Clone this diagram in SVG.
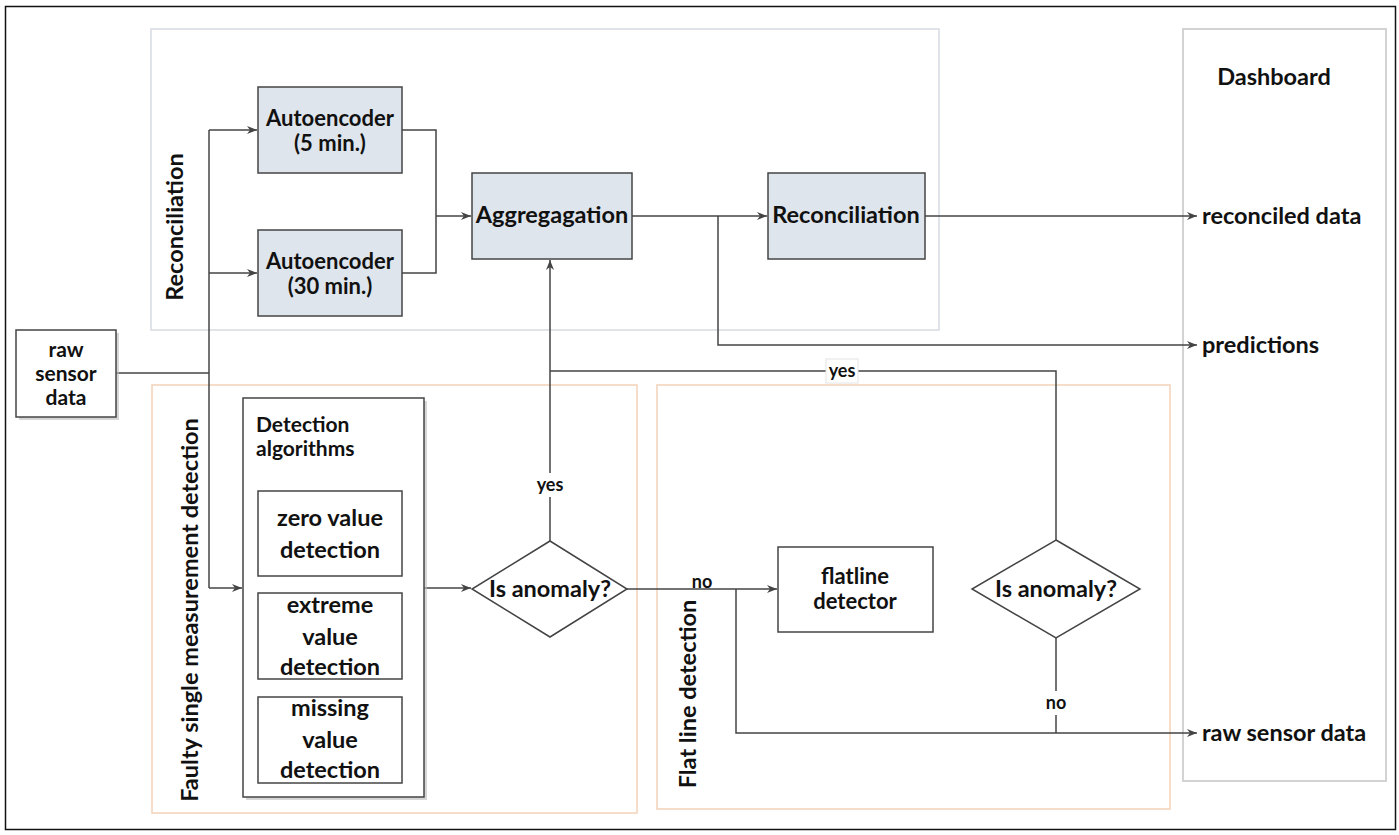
<svg xmlns="http://www.w3.org/2000/svg" width="1399" height="835" viewBox="0 0 1399 835">
<style>
text{font-family:Lato,"Open Sans","Liberation Sans",sans-serif;font-weight:700;fill:#111}
.t{font-size:23.5px;text-anchor:middle}
.m{font-size:22px;text-anchor:middle}
.n{font-size:21px;text-anchor:middle}
.l{font-size:23.5px}
.s{font-size:18px;text-anchor:middle}
.node{fill:#dfe5ec;stroke:#444;stroke-width:1.5}
.box{fill:#fff;stroke:#444;stroke-width:1.5}
.shadow{fill:#bbb;opacity:0.6}
.grp{fill:#fff;stroke:#d6dbe1;stroke-width:1.5}
.org{fill:#fff;stroke:#f2d2b8;stroke-width:1.5}
.dash{fill:#fff;stroke:#d3d3d3;stroke-width:2}
.c{fill:none;stroke:#444;stroke-width:1.5}
.ca{fill:none;stroke:#444;stroke-width:1.5;marker-end:url(#arr)}
</style>
<defs>
<marker id="arr" markerUnits="userSpaceOnUse" markerWidth="11" markerHeight="8" refX="10" refY="4" orient="auto">
<path d="M0,0 L10,4 L0,8 L3,4 z" fill="#444"/>
</marker>
</defs>
<rect x="0" y="0" width="1399" height="835" fill="#fff"/>
<rect x="5.5" y="6.5" width="1390" height="823" fill="none" stroke="#111" stroke-width="1.5"/>

<g id="group-reconciliation">
<rect class="grp" x="151" y="29" width="788" height="301"/>
<text class="t" transform="translate(183,227) rotate(-90)">Reconciliation</text>
</g>
<g id="group-faulty">
<rect class="org" x="152" y="385" width="485" height="428"/>
<text class="t" transform="translate(198,610) rotate(-90)">Faulty single measurement detection</text>
</g>
<g id="group-flatline">
<rect class="org" x="657" y="385" width="513" height="424"/>
<text class="t" transform="translate(696,694) rotate(-90)">Flat line detection</text>
</g>
<g id="group-dashboard">
<rect class="dash" x="1183" y="29" width="203" height="752"/>
<text class="t" x="1274" y="85">Dashboard</text>
</g>

<g id="connectors">
<path class="c" d="M116,373 H209"/>
<path class="c" d="M209,130 V588"/>
<path class="ca" d="M209,130 H257"/>
<path class="ca" d="M209,273 H257"/>
<path class="ca" d="M209,588 H242"/>
<path class="c" d="M402,130 H436 V273 H402"/>
<path class="ca" d="M436,216 H471"/>
<path class="ca" d="M632,216 H767"/>
<path class="ca" d="M718,216 V345 H1197"/>
<path class="ca" d="M925,216 H1197"/>
<path class="ca" d="M424,588 H471"/>
<path class="ca" d="M550,541 V260"/>
<path class="c" d="M1056,541 V371 H550"/>
<path class="ca" d="M627,589 H777"/>
<path class="ca" d="M736,589 V733 H1197"/>
<path class="c" d="M1056,638 V733"/>
<rect x="534" y="473" width="32" height="24" fill="#fff"/>
<text class="s" x="550" y="491">yes</text>
<rect x="826" y="359" width="32" height="24" fill="#fff" stroke="#e4e4e4" stroke-width="1"/>
<text class="s" x="842" y="377">yes</text>
<text class="s" x="702" y="588">no</text>
<rect x="1042" y="691" width="28" height="24" fill="#fff"/>
<text class="s" x="1056" y="709">no</text>
</g>

<g id="raw-sensor-data">
<rect class="shadow" x="19" y="333" width="100" height="87"/>
<rect class="box" x="16" y="330" width="100" height="87"/>
<text class="n"><tspan x="66" y="357">raw</tspan><tspan x="66" y="381">sensor</tspan><tspan x="66" y="405">data</tspan></text>
</g>
<g id="autoencoder-5">
<rect class="node" x="258" y="87" width="144" height="86"/>
<text class="m"><tspan x="330" y="126">Autoencoder</tspan><tspan x="330" y="151">(5 min.)</tspan></text>
</g>
<g id="autoencoder-30">
<rect class="node" x="258" y="230" width="144" height="86"/>
<text class="m"><tspan x="330" y="269">Autoencoder</tspan><tspan x="330" y="294">(30 min.)</tspan></text>
</g>
<g id="aggregation">
<rect class="node" x="472" y="173" width="160" height="86"/>
<text class="t" x="552" y="223">Aggregagation</text>
</g>
<g id="reconciliation">
<rect class="node" x="768" y="173" width="157" height="86"/>
<text class="t" x="846" y="223">Reconciliation</text>
</g>
<g id="detection-algorithms">
<rect class="shadow" x="246" y="401" width="181" height="399"/>
<rect class="box" x="243" y="398" width="181" height="399"/>
<text style="font-size:21px"><tspan x="256" y="432">Detection</tspan><tspan x="256" y="456">algorithms</tspan></text>
</g>
<g id="zero-value">
<rect class="box" x="258" y="491" width="144" height="85"/>
<text class="t"><tspan x="330" y="526">zero value</tspan><tspan x="330" y="558">detection</tspan></text>
</g>
<g id="extreme-value">
<rect class="box" x="258" y="593" width="144" height="86"/>
<text class="t"><tspan x="330" y="613">extreme</tspan><tspan x="330" y="645">value</tspan><tspan x="330" y="675">detection</tspan></text>
</g>
<g id="missing-value">
<rect class="box" x="258" y="697" width="144" height="86"/>
<text class="t"><tspan x="330" y="716">missing</tspan><tspan x="330" y="748">value</tspan><tspan x="330" y="778">detection</tspan></text>
</g>
<g id="anomaly-1">
<polygon class="box" points="550,541 627,589 550,637 472,589"/>
<text class="t" x="550" y="597">Is anomaly?</text>
</g>
<g id="flatline-detector">
<rect class="box" x="778" y="547" width="155" height="85"/>
<text class="m"><tspan x="855" y="584">flatline</tspan><tspan x="855" y="609">detector</tspan></text>
</g>
<g id="anomaly-2">
<polygon class="box" points="1056,540 1140,589 1056,638 972,589"/>
<text class="t" x="1056" y="597">Is anomaly?</text>
</g>
<g id="dashboard-outputs">
<text class="l" x="1202" y="224">reconciled data</text>
<text class="l" x="1202" y="353">predictions</text>
<text class="l" x="1202" y="741">raw sensor data</text>
</g>
</svg>
